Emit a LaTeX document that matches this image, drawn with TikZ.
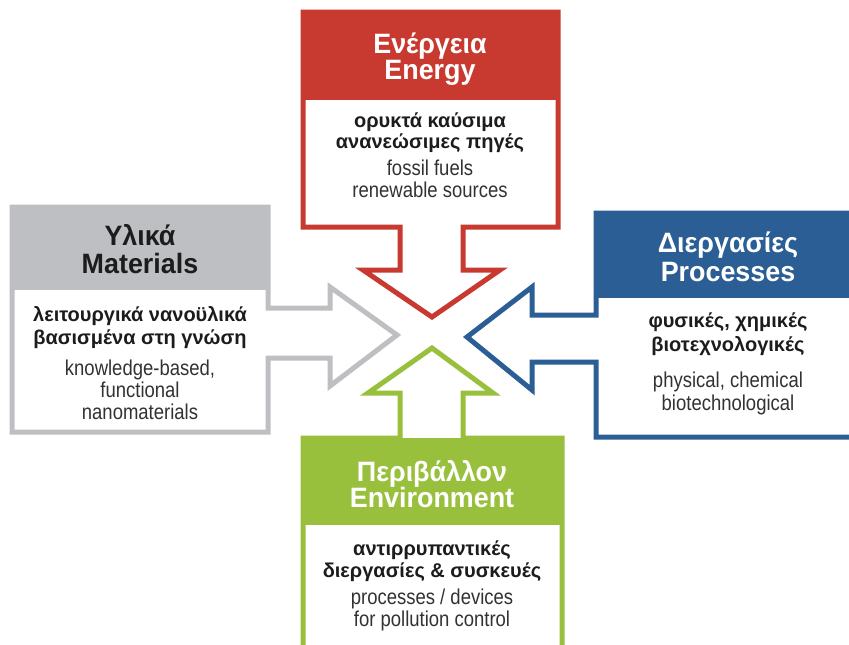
\documentclass[tikz,border=0pt]{standalone}
\usepackage{fontspec}
\setmainfont{Liberation Sans}
\newfontfamily\hdfont[FakeStretch=0.96]{Liberation Sans}
\newfontfamily\grfont[FakeStretch=1.0]{Liberation Sans}
\newfontfamily\enfont[FakeStretch=0.86]{Liberation Sans}
\definecolor{cred}{RGB}{200,58,48}
\definecolor{cgray}{RGB}{190,191,194}
\definecolor{cblue}{RGB}{42,94,149}
\definecolor{cgreen}{RGB}{153,192,60}
\definecolor{ctext}{RGB}{28,28,28}
\definecolor{cen}{RGB}{50,50,50}
\tikzset{
  panel/.style={line width=5pt, line join=miter, fill=white},
  hd/.style={anchor=base, inner sep=0pt, font=\hdfont\bfseries\fontsize{28}{30}\selectfont, text=white},
  gr/.style={anchor=base, inner sep=0pt, font=\grfont\bfseries\fontsize{20}{22}\selectfont, text=ctext},
  en/.style={anchor=base, inner sep=0pt, font=\enfont\fontsize{21.5}{24}\selectfont, text=cen}
}
\begin{document}
\begin{tikzpicture}[x=1pt,y=-1pt]
\useasboundingbox (0,0) rectangle (849,645);
\fill[white] (0,0) rectangle (849,645);
\begin{scope}
\clip (0,0) rectangle (849,645);
% Energy (red)
\path[panel] (303,12) -- (558,12) -- (558,227) -- (463,227) -- (463,270) -- (500,270) -- (432,317) -- (363,270) -- (400,270) -- (400,227) -- (303,227) -- cycle;
\fill[cred] (303,12) rectangle (558,100);
\draw[panel, draw=cred, fill=none] (303,12) -- (558,12) -- (558,227) -- (463,227) -- (463,270) -- (500,270) -- (432,317) -- (363,270) -- (400,270) -- (400,227) -- (303,227) -- cycle;
% Materials (gray)
\path[panel] (12,207) -- (268,207) -- (268,308) -- (330,308) -- (330,287) -- (397,335) -- (330,386) -- (330,358) -- (268,358) -- (268,432) -- (12,432) -- cycle;
\fill[cgray] (12,207) rectangle (268,290);
\draw[panel, draw=cgray, fill=none] (12,207) -- (268,207) -- (268,308) -- (330,308) -- (330,287) -- (397,335) -- (330,386) -- (330,358) -- (268,358) -- (268,432) -- (12,432) -- cycle;
% Processes (blue)
\path[panel] (596,213) -- (870,213) -- (870,437) -- (596,437) -- (596,362) -- (532,362) -- (532,390) -- (467,337) -- (532,287) -- (532,315) -- (596,315) -- cycle;
\fill[cblue] (596,213) rectangle (870,298);
\draw[panel, draw=cblue, fill=none] (596,213) -- (870,213) -- (870,437) -- (596,437) -- (596,362) -- (532,362) -- (532,390) -- (467,337) -- (532,287) -- (532,315) -- (596,315) -- cycle;
% Environment (green)
\path[panel] (303,438) -- (400,438) -- (400,393) -- (368,393) -- (432,348) -- (493,393) -- (463,393) -- (463,438) -- (562,438) -- (562,680) -- (303,680) -- cycle;
\fill[cgreen] (303,438) rectangle (562,525);
\draw[panel, draw=cgreen, fill=none] (303,438) -- (400,438) -- (400,393) -- (368,393) -- (432,348) -- (493,393) -- (463,393) -- (463,438) -- (562,438) -- (562,680) -- (303,680) -- cycle;
\end{scope}
% Energy texts
\node[hd] (eh1) at (430,53) {Ενέργεια};
\node[hd] (eh2) at (430,79) {Energy};
\node[gr] (eg1) at (430,127) {ορυκτά καύσιμα};
\node[gr] (eg2) at (430,148) {ανανεώσιμες πηγές};
\node[en] (ee1) at (430,175) {fossil fuels};
\node[en] (ee2) at (430,197) {renewable sources};
% Materials texts
\node[hd, text=ctext] (mh1) at (140,245) {Υλικά};
\node[hd, text=ctext] (mh2) at (140,273) {Materials};
\node[gr] (mg1) at (140,321) {λειτουργικά νανοϋλικά};
\node[gr] (mg2) at (140,344) {βασισμένα στη γνώση};
\node[en] (me1) at (140,375) {knowledge-based,};
\node[en] (me2) at (140,397) {functional};
\node[en] (me3) at (140,419) {nanomaterials};
% Processes texts
\node[hd] (ph1) at (728,252) {Διεργασίες};
\node[hd] (ph2) at (728,281) {Processes};
\node[gr] (pg1) at (728,327) {φυσικές, χημικές};
\node[gr] (pg2) at (728,351) {βιοτεχνολογικές};
\node[en] (pe1) at (728,387) {physical, chemical};
\node[en] (pe2) at (728,410) {biotechnological};
% Environment texts
\node[hd] (vh1) at (432,481) {Περιβάλλον};
\node[hd] (vh2) at (432,507) {Environment};
\node[gr] (vg1) at (432,555) {αντιρρυπαντικές};
\node[gr] (vg2) at (432,577) {διεργασίες \& συσκευές};
\node[en] (ve1) at (432,604) {processes / devices};
\node[en] (ve2) at (432,626) {for pollution control};
\end{tikzpicture}
\end{document}
